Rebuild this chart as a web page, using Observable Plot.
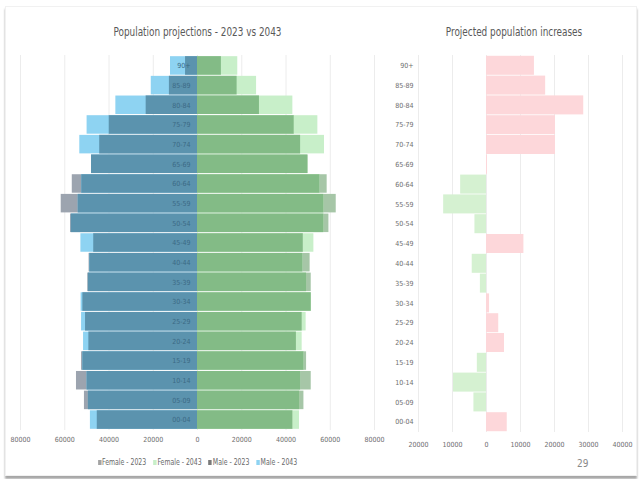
<!DOCTYPE html>
<html>
<head>
<meta charset="utf-8">
<script src="https://cdn.jsdelivr.net/npm/d3@7"></script>
<script src="https://cdn.jsdelivr.net/npm/@observablehq/plot@0.6"></script>
<style>
  html, body { margin: 0; padding: 0; background: #fff; }
  body { width: 640px; height: 479px; position: relative; overflow: hidden;
         font-family: "Liberation Sans Narrow", "DejaVu Sans Condensed", sans-serif; }
  #card { position: absolute; left: 5px; top: 6px; width: 630px; height: 468px;
          background: #fff; border: 1px solid #f1f1f1;
          box-shadow: 0 3px 2px rgba(0,0,0,0.35); }
  .title { position: absolute; top: 24px; font-size: 12.5px; color: #595959;
           text-align: center; white-space: nowrap; transform: scaleX(0.79); transform-origin: center; }
  #left { position: absolute; left: 0; top: 0; }
  #right { position: absolute; left: 380px; top: 0; }
  #legend { position: absolute; top: 458px; left: 0; width: 395px; text-align: center;
            font-size: 8px; color: #6a6a6a; white-space: nowrap;
            transform: scaleX(0.86); transform-origin: 197px 0; }
  #legend span.sw { display: inline-block; width: 4px; height: 5px; margin-right: 1px; vertical-align: 0px; }
  #legend span.item { margin: 0 4px; }
  #page { position: absolute; left: 577px; top: 458px; font-size: 10px; color: #8a8a8a; }
</style>
</head>
<body>
<div id="card"></div>
<div id="left"></div>
<div id="right"></div>
<div class="title" style="left:0;width:395px;">Population projections - 2023 vs 2043</div>
<div class="title" style="left:386px;width:256px;">Projected population increases</div>
<div id="legend"></div>
<div id="page">29</div>
<script>
// Age groups, top to bottom
const ages = ["90+","85-89","80-84","75-79","70-74","65-69","60-64","55-59","50-54","45-49",
              "40-44","35-39","30-34","25-29","20-24","15-19","10-14","05-09","00-04"];
const male2023   = [5400,12700,23200,39900,44200,47900,56600,61600,57400,46900,49000,49600,51800,50600,49100,52400,54700,51100,45300];
const male2043   = [12200,20900,36900,49900,53200,47900,52300,53900,57000,52700,48700,49300,52600,52400,51500,51800,49900,49300,48400];
const female2023 = [10800,17900,28000,43700,46600,49900,58600,62700,59400,47800,50900,51400,51400,47300,44700,49300,51400,48100,43100];
const female2043 = [18200,26700,43100,54400,57400,49900,55300,57100,57100,52600,47600,49300,51400,49100,47300,48100,46600,46200,46100];
const increase   = [14100,17400,28600,20300,20300,300,-7600,-12600,-3400,11000,-4200,-1800,900,3600,5300,-2700,-9700,-3700,6100];

const xTicksLeft = [-80000,-60000,-40000,-20000,0,20000,40000,60000,80000];
const xTicksRight = [-20000,-10000,0,10000,20000,30000,40000];

const legendItems = [
  {label: "Female - 2023", color: "#a3a3a3"},
  {label: "Female - 2043", color: "#c8efc9"},
  {label: "Male - 2023",   color: "#7a7a7a"},
  {label: "Male - 2043",   color: "#8ed3f2"}
];

const font = '"Liberation Sans Narrow", "DejaVu Sans Condensed", sans-serif';

// table for the pyramid
const rows = [];
ages.forEach((a, i) => {
  rows.push({age: a, sex: "M", sign: -1, v23: male2023[i], v43: male2043[i]});
  rows.push({age: a, sex: "F", sign: 1, v23: female2023[i], v43: female2043[i]});
});

const colors = {
  M: {only23: "#9ca4af", only43: "#8ed3f2", both: "#5b93ae"},
  F: {only23: "#a6c6a7", only43: "#c8efc9", both: "#83bb86"}
};

const left = Plot.plot({
  width: 395, height: 452,
  marginTop: 55, marginBottom: 22, marginLeft: 20, marginRight: 21,
  style: {fontFamily: font, fontSize: "7px", color: "#6e6e6e", background: "transparent"},
  x: {domain: [-80000, 80000], ticks: xTicksLeft, tickFormat: d => String(Math.abs(d)),
      tickSize: 0, tickPadding: 7, label: null},
  y: {domain: ages, padding: 0.06, round: false, axis: null},
  marks: [
    Plot.ruleX(xTicksLeft, {x: d => d, stroke: "#ececec", strokeWidth: 1}),
    Plot.barX(rows, {y: "age", x1: 0, x2: d => d.sign * d.v23, fill: d => colors[d.sex].only23}),
    Plot.barX(rows, {y: "age", x1: 0, x2: d => d.sign * d.v43, fill: d => colors[d.sex].only43}),
    Plot.barX(rows, {y: "age", x1: 0, x2: d => d.sign * Math.min(d.v23, d.v43), fill: d => colors[d.sex].both}),
    Plot.text(ages, {y: d => d, x: 0, dx: -7, text: d => d, textAnchor: "end",
                     fill: "#3b6a85", fontSize: 7})
  ]
});
document.getElementById("left").appendChild(left);

const inc = ages.map((a, i) => ({age: a, value: increase[i]}));
const right = Plot.plot({
  width: 260, height: 452,
  marginTop: 55, marginBottom: 20, marginLeft: 38, marginRight: 18,
  style: {fontFamily: font, fontSize: "7px", color: "#6e6e6e", background: "transparent"},
  x: {domain: [-20000, 40000], ticks: xTicksRight, tickFormat: d => String(Math.abs(d)),
      tickSize: 0, tickPadding: 10, label: null},
  y: {domain: ages, padding: 0.04, round: false, tickSize: 0, tickPadding: 5, label: null},
  marks: [
    Plot.ruleX(xTicksRight, {x: d => d, stroke: "#ececec", strokeWidth: 1}),
    Plot.barX(inc, {y: "age", x: "value", fill: d => d.value >= 0 ? "#fdd7da" : "#d5f1d1"})
  ]
});
document.getElementById("right").appendChild(right);

const lg = document.getElementById("legend");
legendItems.forEach(it => {
  const s = document.createElement("span");
  s.className = "item";
  s.innerHTML = `<span class="sw" style="background:${it.color}"></span>${it.label}`;
  lg.appendChild(s);
});
</script>
</body>
</html>
